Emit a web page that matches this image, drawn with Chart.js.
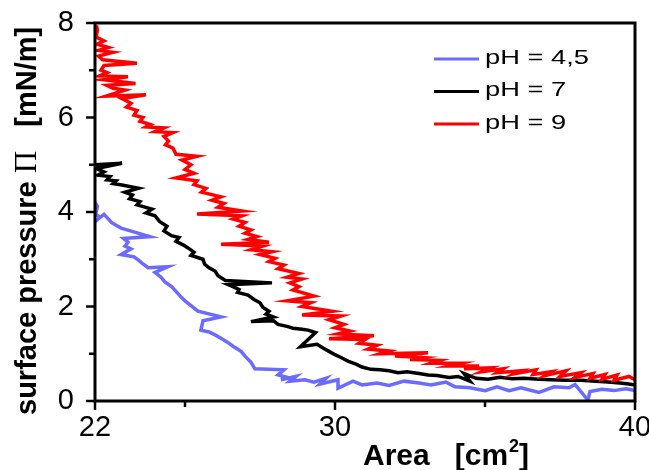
<!DOCTYPE html>
<html>
<head>
<meta charset="utf-8">
<script src="https://cdn.jsdelivr.net/npm/chart.js@4.4.0/dist/chart.umd.min.js"></script>
<style>
  html, body { margin: 0; padding: 0; background: #fff; }
  #wrap { width: 649px; height: 470px; }
</style>
</head>
<body>
<div id="wrap"><canvas id="isotherm" width="649" height="470"></canvas></div>
<script>
// isotherms: area [cm2] and surface pressure [mN/m]

const areaBlue = [22.0, 22.08, 22.02, 22.15, 22.1, 22.3, 22.45, 22.55, 22.7, 22.87, 23.83, 22.95, 23.1, 23.0, 23.2, 22.87, 23.3, 23.45, 23.6, 23.77,
  24.43, 24.0, 24.2, 24.33, 24.55, 24.7, 24.87, 25.0, 25.2, 25.43, 26.2, 25.6, 25.53, 25.8, 26.0, 26.2, 26.4, 26.6, 26.87, 27.0,
  27.2, 27.33, 28.3, 28.1, 28.4, 28.2, 28.7, 28.5, 29.0, 29.3, 29.7, 29.5, 30.1, 30.1, 30.6, 30.9, 31.4, 31.8, 32.3, 32.8,
  33.2, 33.7, 34.0, 34.5, 35.0, 35.4, 35.8, 36.2, 36.8, 37.3, 37.8, 38.0, 38.43, 38.5, 38.9, 39.3, 39.7, 40.0];
const piBlue = [4.2, 4.12, 3.95, 3.9, 3.85, 3.95, 3.85, 3.78, 3.72, 3.66, 3.48, 3.44, 3.36, 3.28, 3.22, 3.1, 3.05, 2.98, 2.9, 2.82,
  2.84, 2.72, 2.62, 2.52, 2.42, 2.32, 2.2, 2.12, 2.02, 1.9, 1.78, 1.7, 1.5, 1.46, 1.4, 1.33, 1.25, 1.16, 1.05, 0.95,
  0.82, 0.68, 0.66, 0.55, 0.5, 0.45, 0.52, 0.42, 0.45, 0.4, 0.48, 0.36, 0.45, 0.27, 0.42, 0.34, 0.38, 0.33, 0.42, 0.38,
  0.34, 0.4, 0.3, 0.28, 0.22, 0.3, 0.22, 0.28, 0.18, 0.3, 0.28, 0.35, 0.02, 0.2, 0.25, 0.22, 0.26, 0.22];

const areaBlack = [22.0, 22.9, 22.05, 22.3, 22.1, 22.5, 22.4, 22.7, 22.6, 22.9, 23.45, 23.0, 23.25, 23.15, 23.5, 23.4, 23.9, 23.7, 24.0, 24.15,
  24.4, 24.3, 24.55, 24.8, 24.7, 24.95, 25.1, 25.3, 25.2, 25.6, 25.65, 25.8, 26.0, 26.1, 26.35, 27.9, 26.45, 26.6, 26.8, 26.75,
  27.1, 27.3, 27.5, 27.6, 27.8, 27.7, 27.95, 27.2, 27.95, 28.1, 28.4, 28.6, 28.9, 29.1, 29.35, 28.85, 29.4, 29.6, 29.8, 30.0,
  30.2, 30.45, 30.7, 30.9, 31.2, 31.5, 31.8, 32.1, 32.4, 32.8, 33.1, 33.4, 33.8, 34.1, 34.5, 34.3, 34.7, 35.1, 35.5, 35.9,
  36.3, 36.8, 37.2, 37.7, 38.2, 38.7, 39.1, 39.5, 39.8, 40.0];
const piBlack = [5.0, 5.03, 4.92, 4.85, 4.78, 4.75, 4.68, 4.66, 4.6, 4.57, 4.5, 4.42, 4.36, 4.28, 4.22, 4.15, 4.06, 3.98, 3.92, 3.8,
  3.7, 3.6, 3.5, 3.46, 3.38, 3.3, 3.24, 3.15, 3.08, 3.0, 2.9, 2.82, 2.75, 2.65, 2.55, 2.5, 2.46, 2.42, 2.36, 2.3,
  2.24, 2.15, 2.08, 1.98, 1.9, 1.84, 1.78, 1.68, 1.7, 1.62, 1.58, 1.54, 1.52, 1.5, 1.45, 1.15, 1.2, 1.12, 1.05, 0.98,
  0.92, 0.84, 0.78, 0.72, 0.67, 0.66, 0.64, 0.6, 0.62, 0.58, 0.55, 0.54, 0.5, 0.52, 0.42, 0.58, 0.48, 0.46, 0.5, 0.47,
  0.48, 0.46, 0.45, 0.44, 0.44, 0.42, 0.4, 0.38, 0.36, 0.34];

const areaRed = [22.05, 22.08, 22.04, 22.3, 22.06, 22.45, 22.1, 22.6, 22.12, 22.25, 23.4, 22.3, 22.2, 22.4, 22.15, 23.1, 22.3, 23.35, 22.4, 22.6,
  23.0, 22.35, 23.7, 22.9, 23.2, 23.05, 23.4, 23.3, 23.6, 23.5, 23.85, 23.7, 24.3, 24.0, 24.6, 24.3, 24.45, 24.35, 24.6, 24.7,
  25.4, 24.9, 25.2, 25.0, 25.3, 24.7, 25.4, 25.3, 25.7, 25.55, 26.2, 25.9, 26.3, 26.1, 26.9, 25.4, 26.9, 26.6, 27.0, 26.8,
  27.2, 27.0, 27.4, 27.1, 27.8, 26.2, 27.6, 27.2, 27.9, 27.5, 28.0, 27.8, 28.3, 28.1, 28.8, 28.4, 28.9, 28.5, 28.8, 28.6,
  29.3, 28.4, 29.2, 28.9, 29.9, 28.9, 30.2, 29.8, 30.3, 30.0, 30.5, 30.1, 31.3, 29.8, 31.0, 30.8, 31.4, 31.1, 31.8, 31.5,
  33.1, 32.0, 32.9, 32.5, 33.5, 33.2, 34.2, 33.8, 34.8, 34.3, 35.2, 34.9, 35.6, 35.4, 36.2, 36.0, 36.7, 36.6, 37.2, 37.0,
  37.7, 37.5, 38.2, 38.0, 38.6, 38.5, 39.0, 38.9, 39.4, 39.3, 39.8, 40.0];
const piRed = [7.95, 7.85, 7.7, 7.62, 7.55, 7.48, 7.42, 7.38, 7.3, 7.22, 7.15, 7.1, 7.0, 6.95, 6.88, 6.86, 6.8, 6.72, 6.68, 6.62,
  6.58, 6.45, 6.48, 6.4, 6.3, 6.22, 6.15, 6.05, 6.0, 5.92, 5.85, 5.8, 5.78, 5.7, 5.68, 5.6, 5.5, 5.42, 5.35, 5.22,
  5.18, 5.1, 5.0, 4.9, 4.82, 4.72, 4.66, 4.58, 4.5, 4.42, 4.32, 4.25, 4.18, 4.1, 4.02, 3.96, 3.92, 3.85, 3.78, 3.7,
  3.62, 3.55, 3.48, 3.42, 3.36, 3.32, 3.28, 3.2, 3.16, 3.1, 3.02, 2.95, 2.88, 2.8, 2.7, 2.62, 2.58, 2.5, 2.42, 2.35,
  2.22, 2.12, 2.08, 2.0, 1.9, 1.82, 1.8, 1.72, 1.62, 1.55, 1.48, 1.42, 1.38, 1.32, 1.3, 1.22, 1.18, 1.1, 1.06, 1.0,
  1.02, 0.95, 0.92, 0.88, 0.86, 0.8, 0.8, 0.74, 0.74, 0.68, 0.7, 0.62, 0.68, 0.6, 0.64, 0.58, 0.66, 0.56, 0.62, 0.54,
  0.64, 0.52, 0.6, 0.5, 0.58, 0.48, 0.56, 0.46, 0.55, 0.44, 0.52, 0.45];

const seriesLabels = ['pH = 4,5', 'pH = 7', 'pH = 9'];
const seriesColors = ['#6b6bff', '#000000', '#ff0000'];

const xTickLabels = [22, 30, 40];
const xMinorTicks = [25, 35];
const yTickLabels = [0, 2, 4, 6, 8];
const yMinorTicks = [1, 3, 5, 7];

function toPoints(xs, ys) {
  return xs.map((x, i) => ({ x: x, y: ys[i] }));
}

const FONT = "'Liberation Sans', Arial, sans-serif";

// box, tick marks, legend and axis titles
const framePlugin = {
  id: 'frame',
  afterDatasetsDraw(chart) {
    const ctx = chart.ctx;
    const a = chart.chartArea;
    const xs = chart.scales.x;
    const ys = chart.scales.y;
    ctx.save();
    ctx.strokeStyle = '#000';
    ctx.lineWidth = 3;
    ctx.strokeRect(a.left, a.top, a.right - a.left, a.bottom - a.top);

    ctx.lineWidth = 2.5;
    xTickLabels.concat(xMinorTicks).forEach(v => {
      const px = xs.getPixelForValue(v);
      const len = xTickLabels.includes(v) ? 9 : 6;
      ctx.beginPath();
      ctx.moveTo(px, a.bottom);
      ctx.lineTo(px, a.bottom + len);
      ctx.stroke();
    });
    yTickLabels.concat(yMinorTicks).forEach(v => {
      const py = ys.getPixelForValue(v);
      const len = yTickLabels.includes(v) ? 9 : 6;
      ctx.beginPath();
      ctx.moveTo(a.left, py);
      ctx.lineTo(a.left - len, py);
      ctx.stroke();
    });

    // legend (text in the original is drawn wide)
    ctx.font = '21px ' + FONT;
    ctx.textBaseline = 'middle';
    ctx.textAlign = 'left';
    chart.data.datasets.forEach((ds, i) => {
      const ly = 59 + i * 32.5;
      ctx.strokeStyle = ds.borderColor;
      ctx.lineWidth = 3;
      ctx.beginPath();
      ctx.moveTo(434, ly);
      ctx.lineTo(479, ly);
      ctx.stroke();
      ctx.save();
      ctx.translate(485, ly - 1);
      ctx.scale(1.3, 1);
      ctx.fillStyle = '#000';
      ctx.fillText(ds.label, 0, 0);
      ctx.restore();
    });

    // x title
    ctx.fillStyle = '#000';
    ctx.textBaseline = 'alphabetic';
    ctx.font = 'bold 30px ' + FONT;
    let tx = 363;
    ctx.fillText('Area   [cm', tx, 465);
    tx += ctx.measureText('Area   [cm').width;
    ctx.font = 'bold 18px ' + FONT;
    ctx.fillText('2', tx + 1, 452);
    tx += ctx.measureText('2').width + 1;
    ctx.font = 'bold 30px ' + FONT;
    ctx.fillText(']', tx, 465);

    // y title
    ctx.translate(36, 415);
    ctx.rotate(-Math.PI / 2);
    let ty = 0;
    ctx.font = 'bold 29px ' + FONT;
    ctx.fillText('surface pressure ', ty, 0);
    ty += ctx.measureText('surface pressure ').width;
    ctx.font = "31px 'Liberation Serif', 'Times New Roman', serif";
    ctx.fillText('\u03A0', ty, 0);
    ty += ctx.measureText('\u03A0').width;
    ctx.font = 'bold 29px ' + FONT;
    ctx.fillText('   [mN/m]', ty, 0);
    ctx.restore();
  }
};

const config = {
  type: 'scatter',
  data: {
    datasets: [
      { label: seriesLabels[0], data: toPoints(areaBlue, piBlue), borderColor: seriesColors[0], order: 2 },
      { label: seriesLabels[1], data: toPoints(areaBlack, piBlack), borderColor: seriesColors[1], order: 1 },
      { label: seriesLabels[2], data: toPoints(areaRed, piRed), borderColor: seriesColors[2], order: 0 }
    ].map(ds => Object.assign(ds, {
      showLine: true,
      borderWidth: 3.5,
      pointRadius: 0,
      tension: 0,
      backgroundColor: ds.borderColor
    }))
  },
  options: {
    responsive: false,
    animation: false,
    layout: { padding: { top: 23, right: 14, left: 0, bottom: 0 } },
    plugins: {
      legend: { display: false },
      tooltip: { enabled: false }
    },
    scales: {
      x: {
        type: 'linear',
        min: 22,
        max: 40,
        grid: { display: false },
        border: { display: false },
        afterBuildTicks: s => { s.ticks = xTickLabels.map(v => ({ value: v })); },
        afterFit: s => { s.height = 69; s.paddingLeft = 0; s.paddingRight = 0; },
        ticks: {
          autoSkip: false,
          maxRotation: 0,
          padding: 2,
          color: '#000',
          font: { family: FONT, size: 29 }
        }
      },
      y: {
        min: 0,
        max: 8,
        grid: { display: false },
        border: { display: false },
        afterBuildTicks: s => { s.ticks = yTickLabels.map(v => ({ value: v })); },
        afterFit: s => { s.width = 95; s.paddingTop = 0; s.paddingBottom = 0; },
        ticks: {
          padding: 13,
          color: '#000',
          font: { family: FONT, size: 29 }
        }
      }
    }
  },
  plugins: [framePlugin]
};

var isoChart = new Chart(document.getElementById('isotherm'), config);
</script>
</body>
</html>
